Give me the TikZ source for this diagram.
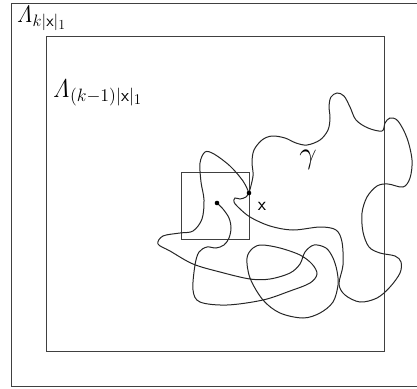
\documentclass[tikz,border=0pt]{standalone}
\usepackage{amsmath}
\tikzset{lab/.style={font=\huge,inner sep=0pt,scale=1.15}}
\begin{document}
\begin{tikzpicture}[x=1pt,y=-1pt,line width=1pt]
 \useasboundingbox (0,0) rectangle (417,388);
 \draw[black!75] (420,3) -| (11,386) -- (420,386);
 \draw[black!75] (46,36) rectangle (384,351);
 \draw[black!75] (181,172) rectangle (249,239);
 \coordinate (o) at (217,203); \coordinate (x) at (249,193);
 % path from o to x
 \draw[black!85] plot[smooth,tension=.55] coordinates {(o) (223,209) (229,218) (231,228) (229,238) (224,245) (216,248) (207,247) (199,252) (195,265) (193,290) (200,302) (227,305) (263,300) (290,291) (310,283) (317,274) (312,264) (300,255) (280,248) (262,245) (253,248) (247,258) (250,278) (263,300) (280,313) (303,318) (320,313) (333,302) (338,285) (337,271) (333,258) (326,248) (314,245) (305,252) (300,264) (290,273) (270,279) (250,279) (220,272) (193,264) (170,251) (158,244) (163,236) (180,233) (193,231) (202,219) (204,200) (201,182) (200,163) (205,152) (214,154) (230,166) (243,181) (x)};
 % loop from x back to x
 \draw[black!85] plot[smooth,tension=.55] coordinates {(x) (246,197) (240,199) (235,198) (234,202) (238,207) (250,217) (270,226) (293,230) (320,227) (336,230) (342,242) (343,265) (339,284) (345,295) (360,302) (377,298) (390,287) (400,273) (401,262) (395,256) (380,253) (369,247) (363,232) (362,213) (367,197) (377,186) (388,184) (403,187) (410,178) (412,160) (407,138) (398,121) (390,118) (385,123) (382,131) (368,128) (356,120) (350,107) (344,96) (337,93) (331,97) (329,106) (330,118) (328,130) (320,140) (307,145) (296,143) (285,138) (272,136) (262,140) (254,150) (252,162) (253,176) (x)};
 \fill (o) circle (2.3); \fill (x) circle (2.3);
 \node[lab,anchor=base west] (outer) at (16,22) {$\mathit{\Lambda}_{k|\mathsf{x}|_1}$};
 \node[lab,anchor=base west,scale=1.08] (inner) at (52,97) {$\mathit{\Lambda}_{(k-1)|\mathsf{x}|_1}$};
 \node[lab,anchor=base,scale=1.3] (gamma) at (308,163) {$\gamma$};
 \node[lab,scale=.8] (xlab) at (262,206) {$\mathsf{x}$};
\end{tikzpicture}
\end{document}
